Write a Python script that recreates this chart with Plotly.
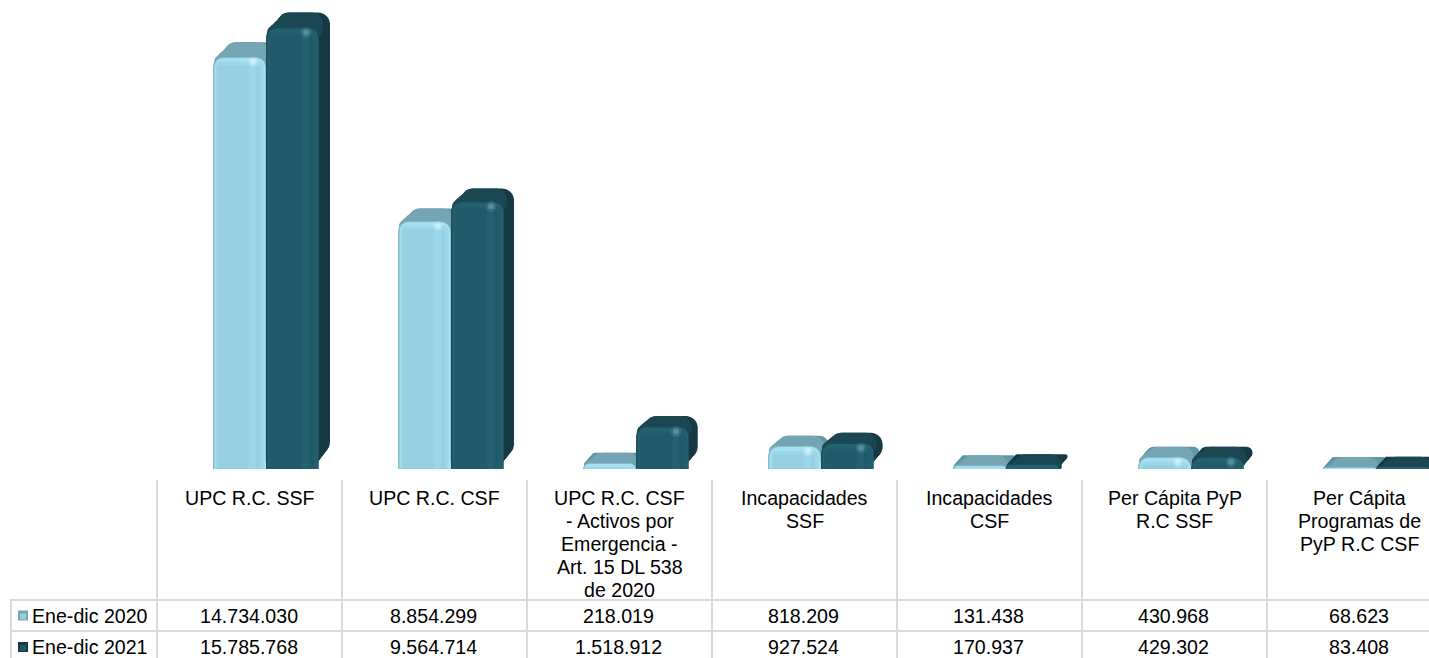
import plotly.graph_objects as go

categories = ["UPC R.C. SSF", "UPC R.C. CSF",
              "UPC R.C. CSF<br>- Activos por<br>Emergencia -<br>Art. 15 DL 538<br>de 2020",
              "Incapacidades<br>SSF", "Incapacidades<br>CSF",
              "Per Cápita PyP<br>R.C SSF", "Per Cápita<br>Programas de<br>PyP R.C CSF"]
series_names = ["Ene-dic 2020", "Ene-dic 2021"]
values_2020 = [14734030, 8854299, 218019, 818209, 131438, 430968, 68623]
values_2021 = [15785768, 9564714, 1518912, 927524, 170937, 429302, 83408]

W, H = 1429, 658
L, BASE = 157, 469        # plot-area left edge / zero line in pixels
CAT = 185.0               # pixels per category
PXU = 27.97 / 1e6         # pixels per value unit
FONT = "Liberation Sans, Arial, sans-serif"
FS = 19.6
LINE = 23
idx = list(range(len(categories)))

def xu(px): return px / CAT
def yu(px): return px / PXU
def fmt(v): return f"{v:,}".replace(",", ".")
def px_x(px): return (px - L) / (W - L)
def px_y(px): return (BASE - px) / BASE

palette = [
    dict(side="#5f98a8", top="#74a5b3", rim="#86bccb", bevel="#a6e0f0", soft="#9cd7e8",
         main="#95cfe0", band="#9bd6e7", spot="#d8f8ff"),
    dict(side="#153a45", top="#1b4753", rim="#1c4d5a", bevel="#24606f", soft="#225d6c",
         main="#205a69", band="#25606f", spot="#6aa4b2"),
]
left_off = [-36.5, 16.5]
front_w = 52.5

fig = go.Figure()

def add(heights, base, off_px, w_px, color, radius, name):
    fig.add_trace(go.Bar(x=idx, y=heights, base=base,
                         offset=[xu(o) for o in off_px],
                         width=[xu(w) for w in w_px] if isinstance(w_px, list) else xu(w_px),
                         marker=dict(color=color, line=dict(width=0), cornerradius=radius),
                         hoverinfo="skip", showlegend=False, name=name))

for s, vals in enumerate([values_2020, values_2021]):
    c = palette[s]
    lo = left_off[s]
    n = series_names[s]
    depth = [10 + 5 * v / 15.8e6 for v in vals]
    shift = [9 + 2.5 * v / 15.8e6 for v in vals]
    N = 10
    # extruded silhouette, stepped from the far face to the near face
    for k in range(N, 0, -1):
        f = k / N
        add(vals, [yu(d * f) for d in depth], [lo + sh * f for sh in shift],
            front_w, c["side"], 12, n)
    # top face, same steps; starts under the front so its corners keep their radius
    drop = 12
    for k in range(N, 0, -1):
        f = k / N
        add([yu(d * f + drop) for d in depth], [v - yu(drop) for v in vals],
            [lo + sh * f for sh in shift],
            [front_w - sh * f * 0.65 for sh in shift], c["top"], 11, n)
    # front face, nested from the edge inward
    add(vals, None, [lo] * len(vals), front_w, c["rim"], 10, n)
    add([max(v - yu(1), 0) for v in vals], None, [lo + 1.5] * len(vals), front_w - 1.5,
        c["bevel"], 9, n)
    add([max(v - yu(5), 0) for v in vals], None, [lo + 3] * len(vals), front_w - 5,
        c["soft"], 5, n)
    add([max(v - yu(8), 0) for v in vals], None, [lo + 4.5] * len(vals), front_w - 10,
        c["main"], 4, n)
    add([max(v - yu(8), 0) for v in vals], None, [lo + 36] * len(vals), 7,
        c["band"], 0, n)
    # specular spot (only on bars tall enough to have a bevel)
    sx = [i + xu(lo + 40) for i, v in zip(idx, vals) if v > 4e5]
    sy = [v - yu(5) for v in vals if v > 4e5]
    for size, op in ((11, 0.22), (6, 0.6)):
        fig.add_trace(go.Scatter(x=sx, y=sy, mode="markers", hoverinfo="skip", showlegend=False,
                                 marker=dict(size=size, color=c["spot"], opacity=op, line=dict(width=0))))

GRID = dict(color="#d9d9d9", width=2)
shapes = []
for i in idx:
    xp = L + i * CAT
    shapes.append(dict(type="line", xref="paper", yref="paper", x0=px_x(xp), x1=px_x(xp),
                       y0=px_y(480), y1=px_y(H), line=GRID))
shapes.append(dict(type="line", xref="paper", yref="paper", x0=px_x(11), x1=px_x(11),
                   y0=px_y(600), y1=px_y(H), line=GRID))
for yp in (600, 631):
    shapes.append(dict(type="line", xref="paper", yref="paper", x0=px_x(10), x1=1,
                       y0=px_y(yp), y1=px_y(yp), line=GRID))

annotations = []
# column headers, one annotation per line to keep the reference's tight leading
for i, label in zip(idx, categories):
    for ln, part in enumerate(label.split("<br>")):
        annotations.append(dict(xref="x", yref="paper", x=i, y=px_y(498 + ln * LINE), text=part,
                                showarrow=False, xanchor="center", yanchor="middle",
                                font=dict(family=FONT, size=FS, color="#000")))

rows_y = [615.5, 647]
for r, vals in enumerate([values_2020, values_2021]):
    c = palette[r]
    yc = rows_y[r]
    annotations.append(dict(xref="paper", yref="paper", x=px_x(30), y=px_y(yc), text=series_names[r],
                            showarrow=False, xanchor="left", yanchor="middle",
                            font=dict(family=FONT, size=FS, color="#000")))
    shapes.append(dict(type="rect", xref="paper", yref="paper", x0=px_x(18), x1=px_x(28),
                       y0=px_y(yc - 5), y1=px_y(yc + 5), line=dict(width=0),
                       fillcolor=c["top"] if r == 0 else c["side"]))
    shapes.append(dict(type="rect", xref="paper", yref="paper", x0=px_x(20), x1=px_x(26),
                       y0=px_y(yc - 2), y1=px_y(yc + 4), line=dict(width=0),
                       fillcolor=c["main"]))
    for i, v in zip(idx, vals):
        annotations.append(dict(xref="x", yref="paper", x=i - 0.005, y=px_y(yc), text=fmt(v),
                                showarrow=False, xanchor="center", yanchor="middle",
                                font=dict(family=FONT, size=FS, color="#000")))

fig.update_layout(
    width=W, height=H, autosize=False,
    margin=dict(l=L, r=0, t=0, b=H - BASE, pad=0),
    paper_bgcolor="#ffffff", plot_bgcolor="#ffffff",
    barmode="overlay", showlegend=False,
    shapes=shapes, annotations=annotations,
    xaxis=dict(range=[-0.5, -0.5 + (W - L) / CAT], tickmode="array", tickvals=idx, ticktext=categories,
               showticklabels=False, showgrid=False, zeroline=False, showline=False, ticks=""),
    yaxis=dict(range=[0, BASE / PXU], visible=False, showgrid=False, zeroline=False),
)

fig.write_html("out.html", config=dict(displayModeBar=False),
               post_script="document.body.style.margin='0';document.body.style.overflow='hidden';")
